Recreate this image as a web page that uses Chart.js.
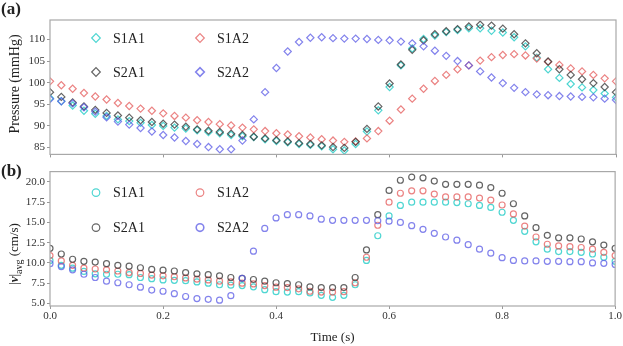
<!DOCTYPE html>
<html>
<head>
<meta charset="utf-8">
<script src="https://cdn.jsdelivr.net/npm/chart.js@4.4.0/dist/chart.umd.min.js"></script>
<style>
  body { margin: 0; background: #fff; width: 623px; height: 346px; position: relative; overflow: hidden; font-family: "Liberation Serif", serif; color: #222; }
  #ca { position: absolute; left: 0; top: 0; }
  #cb { position: absolute; left: 0; top: 163px; }
  .tag { position: absolute; font-weight: bold; font-size: 17px; }
  .ytitle { position: absolute; transform: translate(-50%, -50%) rotate(-90deg); white-space: nowrap; font-size: 13px; }
</style>
</head>
<body>
<canvas id="ca" width="623" height="163"></canvas>
<canvas id="cb" width="623" height="183"></canvas>
<div class="tag" style="left:1px;top:-1px">(a)</div>
<div class="tag" style="left:1px;top:161px">(b)</div>
<div class="ytitle" style="left:15px;top:84px;font-size:14px">Pressure (mmHg)</div>
<div class="ytitle" style="left:15px;top:254px">|<b><i>v</i></b>|<sub style="font-size:10px">avg</sub> (cm/s)</div>
<script>
const time = [
  0.00, 0.02, 0.04, 0.06, 0.08, 0.10, 0.12, 0.14, 0.16, 0.18,
  0.20, 0.22, 0.24, 0.26, 0.28, 0.30, 0.32, 0.34, 0.36, 0.38,
  0.40, 0.42, 0.44, 0.46, 0.48, 0.50, 0.52, 0.54, 0.56, 0.58,
  0.60, 0.62, 0.64, 0.66, 0.68, 0.70, 0.72, 0.74, 0.76, 0.78,
  0.80, 0.82, 0.84, 0.86, 0.88, 0.90, 0.92, 0.94, 0.96, 0.98, 1.00
];

// (a) pressure, mmHg
const pressS1A1 = [
  96.4, 95.7, 94.7, 93.5, 92.8, 92.3, 91.5, 91.1, 90.7, 90.2,
  90.0, 89.6, 89.4, 89.0, 88.6, 88.3, 87.9, 87.6, 87.4, 86.9,
  86.5, 86.2, 85.8, 85.6, 85.3, 84.6, 84.3, 85.8, 88.7, 93.6,
  99.0, 104.0, 107.9, 110.1, 110.9, 111.7, 112.2, 112.6, 112.6, 112.0,
  111.6, 110.5, 108.4, 105.8, 103.1, 101.1, 99.7, 98.9, 98.3, 97.5, 96.6
];
const pressS2A1 = [
  97.8, 96.7, 95.4, 94.5, 93.7, 93.0, 92.4, 91.9, 91.3, 90.9,
  90.5, 90.3, 89.8, 89.2, 88.9, 88.6, 88.2, 87.9, 87.5, 87.1,
  86.7, 86.4, 86.0, 85.8, 85.5, 85.1, 84.9, 86.3, 89.3, 94.5,
  99.8, 104.2, 107.6, 109.8, 111.2, 111.9, 112.4, 113.0, 113.4, 113.2,
  112.5, 111.2, 109.1, 106.8, 104.9, 103.1, 101.8, 100.8, 99.9, 99.0, 97.8
];
const pressS1A2 = [
  100.3, 99.4, 98.6, 97.6, 96.8, 96.1, 95.3, 94.6, 94.0, 93.5,
  92.9, 92.3, 91.9, 91.3, 90.9, 90.4, 90.1, 89.6, 89.2, 88.8,
  88.3, 88.0, 87.6, 87.3, 86.9, 86.6, 86.3, 86.4, 87.1, 88.8,
  91.2, 93.8, 96.3, 98.6, 100.4, 101.8, 103.1, 104.0, 105.1, 105.9,
  106.4, 106.6, 106.3, 105.6, 104.8, 104.1, 103.3, 102.6, 101.8, 101.0, 100.3
];
const pressS2A2 = [
  96.2, 95.7, 95.2, 94.3, 93.3, 92.0, 91.0, 90.3, 89.5, 88.7,
  87.9, 87.3, 86.5, 85.8, 85.1, 84.6, 84.6, 86.6, 91.5, 97.8,
  103.4, 107.2, 109.4, 110.4, 110.5, 110.3, 110.2, 110.2, 110.1, 109.9,
  109.8, 109.5, 109.1, 108.4, 107.4, 106.2, 105.0, 104.0, 102.6, 101.2,
  99.9, 98.8, 97.8, 97.3, 97.1, 96.9, 96.8, 96.7, 96.6, 96.3, 96.0
];

// (b) |v|avg, cm/s
const velS1A1 = [
  10.3, 9.7, 9.35, 8.95, 8.65, 8.6, 8.6, 8.55, 8.2, 8.05,
  7.9, 7.85, 7.8, 7.65, 7.5, 7.3, 7.25, 7.2, 7.05, 6.7,
  6.45, 6.4, 6.45, 6.3, 6.0, 5.75, 6.0, 7.3, 10.3, 13.35,
  15.8, 17.1, 17.5, 17.5, 17.5, 17.5, 17.45, 17.3, 17.1, 16.85,
  16.25, 15.25, 13.9, 12.6, 11.7, 11.4, 11.4, 11.3, 11.1, 10.7, 10.2
];
const velS2A1 = [
  11.8, 11.1, 10.45, 10.2, 10.1, 9.9, 9.7, 9.6, 9.4, 9.2,
  9.1, 9.0, 8.8, 8.65, 8.55, 8.4, 8.2, 8.1, 7.95, 7.75,
  7.55, 7.45, 7.3, 7.05, 6.95, 6.95, 6.95, 8.2, 11.6, 15.95,
  18.95, 20.2, 20.6, 20.5, 20.1, 19.7, 19.7, 19.7, 19.6, 19.3,
  18.6, 17.3, 15.8, 14.35, 13.4, 13.1, 13.1, 12.95, 12.6, 12.2, 11.8
];
const velS1A2 = [
  10.9, 10.25, 9.7, 9.35, 9.25, 9.15, 9.0, 8.8, 8.7, 8.5,
  8.4, 8.3, 8.15, 8.0, 7.9, 7.75, 7.65, 7.5, 7.4, 7.2,
  7.0, 6.95, 6.8, 6.5, 6.4, 6.4, 6.45, 7.55, 10.7, 14.65,
  17.5, 18.6, 18.9, 18.9, 18.5, 18.15, 18.15, 18.15, 18.0, 17.75,
  17.15, 16.05, 14.55, 13.2, 12.3, 12.1, 12.0, 11.9, 11.7, 11.3, 10.9
];
const velS2A2 = [
  9.9, 9.55, 9.15, 8.6, 8.2, 7.75, 7.55, 7.3, 7.0, 6.65,
  6.5, 6.2, 5.85, 5.6, 5.5, 5.4, 5.95, 8.1, 11.45, 14.25,
  15.55, 15.95, 15.95, 15.8, 15.4, 15.25, 15.25, 15.25, 15.25, 15.2,
  15.15, 15.0, 14.6, 14.15, 13.65, 13.2, 12.8, 12.25, 11.7, 11.2,
  10.65, 10.3, 10.25, 10.25, 10.2, 10.2, 10.15, 10.15, 10.0, 9.95, 9.8
];

const timeTicks = [0, 0.2, 0.4, 0.6, 0.8, 1.0];
const pressTicks = [85, 90, 95, 100, 105, 110];
const velTicks = [5, 7.5, 10, 12.5, 15, 17.5, 20];

const seriesNames = ['S1A1', 'S1A2', 'S2A1', 'S2A2'];
const colors = {
  S1A1: 'rgba(60, 210, 205, 0.9)',
  S1A2: 'rgba(228, 90, 90, 0.75)',
  S2A1: 'rgba(50, 50, 50, 0.75)',
  S2A2: 'rgba(90, 90, 230, 0.75)'
};

const serif = '"Liberation Serif", "Times New Roman", serif';

const pts = ys => time.map((t, i) => ({ x: t, y: ys[i] }));

function makeDatasets(values, style, radius) {
  return seriesNames.map((name, k) => ({
    label: name,
    data: pts(values[k]),
    pointStyle: style,
    pointRadius: radius,
    pointHoverRadius: radius,
    pointBorderWidth: 1.2,
    borderColor: colors[name],
    pointBorderColor: colors[name],
    backgroundColor: 'rgba(0,0,0,0)',
    pointBackgroundColor: 'rgba(0,0,0,0)',
    order: 4 - k
  }));
}

// 2x2 legend placed inside the plot area
const boxLegend = {
  id: 'boxLegend',
  afterDatasetsDraw(chart, args, opts) {
    const { ctx, chartArea } = chart;
    ctx.save();
    chart.data.datasets.forEach(ds => {
      const slot = opts.slots[ds.label];
      const x = chartArea.left + slot[0];
      const y = chartArea.top + slot[1];
      ctx.strokeStyle = ds.borderColor;
      ctx.fillStyle = 'rgba(0,0,0,0)';
      ctx.lineWidth = ds.label === 'S2A2' ? 1.6 : 1.2;
      Chart.helpers.drawPoint(ctx, { pointStyle: ds.pointStyle, radius: opts.radius, borderWidth: 1 }, x, y);
      ctx.fillStyle = '#222';
      ctx.font = '14px ' + serif;
      ctx.textBaseline = 'middle';
      ctx.fillText(ds.label, x + 17, y + 1);
    });
    ctx.restore();
  }
};

const frame = {
  id: 'frame',
  afterDraw(chart) {
    const { ctx, chartArea: a } = chart;
    ctx.save();
    ctx.strokeStyle = '#a8a8a8';
    ctx.lineWidth = 1.2;
    ctx.strokeRect(a.left, a.top, a.right - a.left, a.bottom - a.top);
    ctx.restore();
  }
};

function xScale(showLabels) {
  return {
    type: 'linear', min: 0, max: 1,
    border: { display: false },
    grid: { drawOnChartArea: false, drawTicks: true, tickLength: 3, color: '#999' },
    afterBuildTicks: s => { s.ticks = timeTicks.map(v => ({ value: v })); },
    afterFit: s => { s.height = showLabels ? 40 : 4; },
    ticks: { display: showLabels, padding: 1, color: '#333', font: { family: serif, size: 11 },
             callback: v => Number(v).toFixed(1) },
    title: { display: showLabels, text: 'Time (s)', color: '#222', font: { family: serif, size: 13 },
             padding: { top: 0, bottom: 1 } }
  };
}

function yScale(min, max, tickVals, fmt) {
  return {
    type: 'linear', min: min, max: max,
    border: { display: false },
    grid: { drawOnChartArea: false, drawTicks: true, tickLength: 3, color: '#999' },
    afterBuildTicks: s => { s.ticks = tickVals.map(v => ({ value: v })); },
    afterFit: s => { s.width = 50; },
    ticks: { padding: 2, color: '#333', font: { family: serif, size: 11 }, callback: fmt }
  };
}

const common = {
  responsive: false,
  animation: false,
  devicePixelRatio: 1,
  plugins: { legend: { display: false }, tooltip: { enabled: false } }
};

new Chart(document.getElementById('ca'), {
  type: 'scatter',
  data: { datasets: makeDatasets([pressS1A1, pressS1A2, pressS2A1, pressS2A2], 'rectRot', 3.6) },
  options: Object.assign({}, common, {
    layout: { padding: { top: 20, left: 0, right: 7, bottom: 0 } },
    scales: {
      x: xScale(false),
      y: yScale(83.4, 114.5, pressTicks, v => String(v))
    },
    plugins: Object.assign({}, common.plugins, {
      boxLegend: { radius: 4.3, slots: { S1A1: [46, 18], S2A1: [46, 52], S1A2: [150, 18], S2A2: [150, 52] } }
    })
  }),
  plugins: [boxLegend, frame]
});

new Chart(document.getElementById('cb'), {
  type: 'scatter',
  data: { datasets: makeDatasets([velS1A1, velS1A2, velS2A1, velS2A2], 'circle', 3) },
  options: Object.assign({}, common, {
    layout: { padding: { top: 3, left: 0, right: 7, bottom: 0 } },
    scales: {
      x: xScale(true),
      y: yScale(4.68, 21.27, velTicks, v => Number(v).toFixed(1))
    },
    plugins: Object.assign({}, common.plugins, {
      boxLegend: { radius: 3.8, slots: { S1A1: [46, 21], S2A1: [46, 56], S1A2: [150, 21], S2A2: [150, 56] } }
    })
  }),
  plugins: [boxLegend, frame]
});
</script>
</body>
</html>
